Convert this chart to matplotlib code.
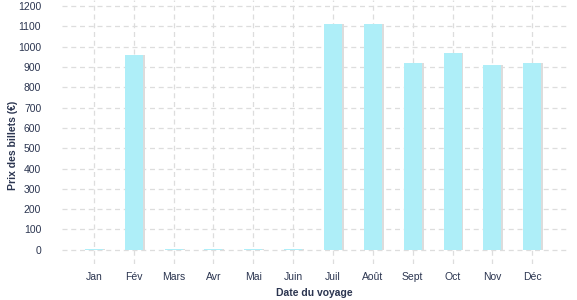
import matplotlib.pyplot as plt
import numpy as np

# months and ticket prices
mois = ['Jan', 'Fév', 'Mars', 'Avr', 'Mai', 'Juin',
        'Juil', 'Août', 'Sept', 'Oct', 'Nov', 'Déc']
prix = [4, 960, 4, 4, 4, 4, 1110, 1110, 920, 970, 910, 920]
yticks = list(range(0, 1300, 100))

TXT = '#2b3550'

plt.rcParams['font.family'] = ['Liberation Sans', 'DejaVu Sans']

fig = plt.figure(figsize=(5.77, 3.0), dpi=100)
ax = fig.add_axes([0.1075, 0.12, 0.875, 0.88])

x = np.arange(len(mois))

# soft grey shadow behind bars, then the bars
ax.bar(x + 0.05, prix, width=0.45, color='#dcdcdc', zorder=2)
ax.bar(x, prix, width=0.45, color='#aeeef8', zorder=3)

ax.set_xlim(-0.8, 11.87)
ax.set_ylim(-70, 1230)
ax.set_xticks(x)
ax.set_xticklabels(mois)
ax.set_yticks(yticks)

ax.grid(True, color='#dddddd', linestyle=(0, (4, 3)), linewidth=0.9, zorder=0)
for s in ax.spines.values():
    s.set_visible(False)
ax.tick_params(axis='both', length=0, labelsize=7.5, colors=TXT)
ax.tick_params(axis='y', pad=15)
ax.tick_params(axis='x', pad=6)

ax.set_xlabel('Date du voyage', fontsize=7.5, fontweight='bold', color=TXT, labelpad=4)
ax.set_ylabel('Prix des billets (€)', fontsize=7.5, fontweight='bold', color=TXT)
ax.yaxis.set_label_coords(-0.088, 0.45)

fig.savefig('out.png', dpi=100)
